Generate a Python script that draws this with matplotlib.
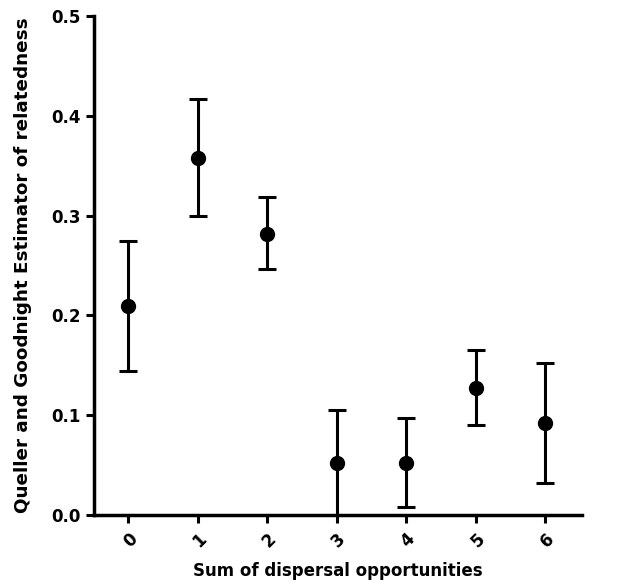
import matplotlib
matplotlib.use("Agg")
import matplotlib.pyplot as plt
import numpy as np

categories = ["0", "1", "2", "3", "4", "5", "6"]
means = [0.209, 0.358, 0.282, 0.052, 0.052, 0.127, 0.092]
upper = [0.275, 0.417, 0.319, 0.105, 0.097, 0.165, 0.152]
lower = [0.144, 0.300, 0.246, -0.002, 0.008, 0.090, 0.032]
yticks = [0.0, 0.1, 0.2, 0.3, 0.4, 0.5]

fig = plt.figure(figsize=(6.38, 5.86), dpi=100)
ax = fig.add_axes([0.1473, 0.1212, 0.7647, 0.8515])

x = np.arange(len(categories))
m = np.array(means)
yerr = np.vstack([m - np.array(lower), np.array(upper) - m])
ax.errorbar(x, m, yerr=yerr, fmt='o', color='black', ms=10, elinewidth=2.2,
            capsize=6.3, capthick=2.2, clip_on=True, zorder=3)

ax.set_xlim(-0.49, 6.53)
ax.set_ylim(0, 0.5)
ax.set_xticks(x)
ax.set_xticklabels(categories, rotation=45, ha='right', rotation_mode='anchor')
ax.set_yticks(yticks)
ax.set_yticklabels([f"{v:.1f}" for v in yticks])

for s in ['top', 'right']:
    ax.spines[s].set_visible(False)
for s in ['left', 'bottom']:
    ax.spines[s].set_linewidth(2.5)

ax.tick_params(axis='both', width=2.2, length=6, labelsize=12, direction='out')
ax.tick_params(axis='x', pad=5)
for lab in ax.get_xticklabels() + ax.get_yticklabels():
    lab.set_fontweight('bold')

ax.set_xlabel("Sum of dispersal opportunities", fontsize=12, fontweight='bold', labelpad=8)
ax.set_ylabel("Queller and Goodnight Estimator of relatedness", fontsize=13.2,
              fontweight='bold', labelpad=14)

fig.savefig("out.png", dpi=100)
